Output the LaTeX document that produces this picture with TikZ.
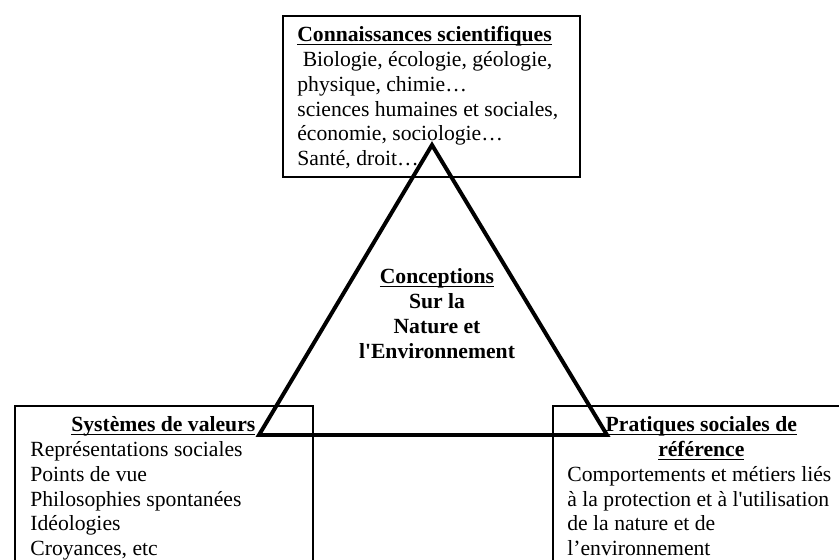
\documentclass[tikz,border=0pt]{standalone}
\usepackage{fontspec}
\setmainfont{Liberation Serif}
\usetikzlibrary{calc}
\tikzstyle{boxnode} = [draw, line width=1.1pt, rectangle, inner sep=0pt, anchor=north west]
\tikzstyle{txtnode} = [inner sep=0pt, anchor=base west, align=flush left, font=\fontsize{12}{13.7}\selectfont]
\newcommand{\rubrique}[1]{\textbf{\underline{\smash{#1}}}}

\begin{document}
\begin{tikzpicture}[x=0.5543pt, y=-0.5543pt]
  \useasboundingbox (0,0) rectangle (839,560);
  \clip (0,0) rectangle (839,560);

  \node[boxnode, minimum width=164.6pt, minimum height=89.2pt] (sci) at (282,15) {};
  \node[boxnode, minimum width=165.2pt, minimum height=120pt] (val) at (14,405) {};
  \node[boxnode, minimum width=165.2pt, minimum height=120pt] (prat) at (552,405) {};

  \node[txtnode, text width=148pt] (sci_t) at ($(sci.north west)+(15,27)$)
    {\rubrique{Connaissances scientifiques}\\
     \ Biologie, écologie, géologie,\\
     physique, chimie…\\
     sciences humaines et sociales,\\
     économie, sociologie…\\
     Santé, droit…};
  \node[txtnode, text width=147.4pt] (val_t) at ($(val.north west)+(16,27)$)
    {{\centering\rubrique{Systèmes de valeurs}\par}
     Représentations sociales\\
     Points de vue\\
     Philosophies spontanées\\
     Idéologies\\
     Croyances, etc};
  \node[txtnode, text width=148.5pt] (prat_t) at ($(prat.north west)+(15,27)$)
    {{\centering\rubrique{Pratiques sociales de}\\ \rubrique{référence}\par}
     Comportements et métiers liés\\
     à la protection et à l\textquotesingle utilisation\\
     de la nature et de\\
     l’environnement};
  \node[txtnode, anchor=base, align=flush center, text width=120pt,
        font=\fontsize{12}{13.7}\selectfont\bfseries] (conc) at (437,284)
    {\rubrique{Conceptions}\\ Sur la\\ Nature et\\ l\textquotesingle Environnement};

  \coordinate (apex) at (432,145);
  \coordinate (vl) at (259,435);
  \coordinate (vr) at (607,435);
  \draw[line width=2.2pt] (apex) -- (vl) -- (vr) -- cycle;
\end{tikzpicture}
\end{document}
